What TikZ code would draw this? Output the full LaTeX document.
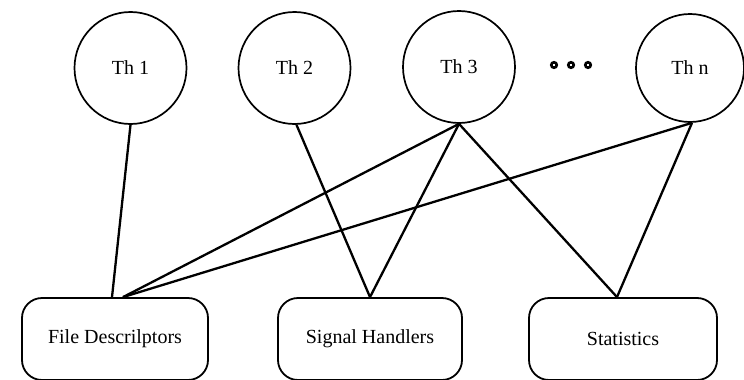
\documentclass[tikz,border=0pt]{standalone}
\usepackage{fontspec}
\setmainfont{Liberation Serif}
\begin{document}
\begin{tikzpicture}[x=1pt,y=-1pt,
  thread/.style={draw,circle,line width=1.7pt,minimum size=112pt,inner sep=0pt,font=\fontsize{20}{24}\selectfont},
  res/.style={draw,rectangle,rounded corners=20pt,line width=1.8pt,minimum height=82pt,inner sep=0pt,font=\fontsize{20}{24}\selectfont},
  link/.style={line width=2.3pt},
  dot/.style={draw,circle,line width=2.6pt,fill=white,minimum size=5.5pt,inner sep=0pt}]
\useasboundingbox (0,0) rectangle (744,380);
\node[thread] (t1) at (130.5,68) {Th 1};
\node[thread] (t2) at (294.5,68) {Th 2};
\node[thread] (t3) at (459,67) {Th 3};
\node[thread,minimum size=108pt] (tn) at (690,68) {Th n};
\node[dot] (d1) at (554,65) {};
\node[dot] (d2) at (571,65) {};
\node[dot] (d3) at (588,65) {};
\node[res,minimum width=186pt] (fd) at (115,339) {File Descrilptors};
\node[res,minimum width=184pt] (sh) at (370,339) {Signal Handlers};
\node[res,minimum width=188pt] (st) at (623,339) {Statistics};
\coordinate (fdin) at ([xshift=8pt]fd.north);
\coordinate (fdone) at ([xshift=-3pt]fd.north);
\coordinate (stin) at ([xshift=-6pt]st.north);
\draw[link] (t1.south) -- (fdone);
\draw[link] ([xshift=2pt]t2.south) -- (sh.north);
\draw[link] (t3.south) -- (fdin);
\draw[link] (t3.south) -- (sh.north);
\draw[link] (t3.south) -- (stin);
\draw[link] ([xshift=2pt]tn.south) -- (fdin);
\draw[link] ([xshift=2pt]tn.south) -- (stin);
\end{tikzpicture}
\end{document}
